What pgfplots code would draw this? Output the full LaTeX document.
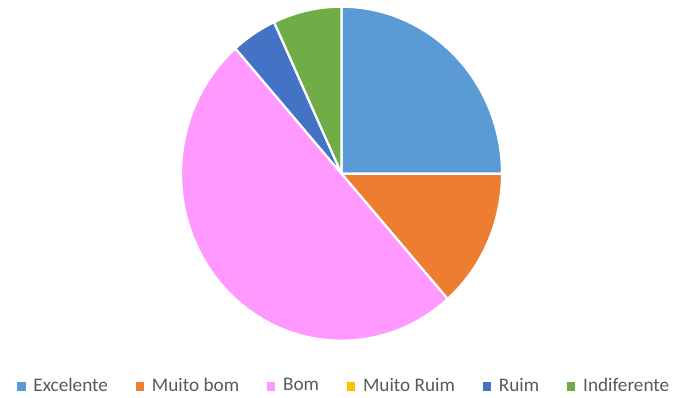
\documentclass[border=0pt]{standalone}
\usepackage{pgfplots}
\pgfplotsset{compat=1.18}
\usepackage{pgfplotstable}
\usepackage{fontspec}
\setmainfont{Carlito}
\definecolor{cExc}{HTML}{5B9BD5}
\definecolor{cMb}{HTML}{ED7D31}
\definecolor{cBom}{HTML}{FF99FF}
\definecolor{cMr}{HTML}{FFC000}
\definecolor{cRuim}{HTML}{4472C4}
\definecolor{cInd}{HTML}{70AD47}
\definecolor{txtgrey}{HTML}{595959}
\pgfplotstableread{
label value col
Excelente 25 cExc
{Muito bom} 13.5 cMb
Bom 50 cBom
{Muito Ruim} 0 cMr
Ruim 4.6 cRuim
Indiferente 6.9 cInd
}\piedata
\begin{document}
\fontsize{19.2pt}{23pt}\selectfont
\begin{tikzpicture}
\begin{axis}[
  at={(0,0)}, anchor=south west,
  scale only axis, width=675pt, height=398pt,
  xmin=0, xmax=675, ymin=0, ymax=398,
  hide axis, clip=false,
  legend columns=6,
  legend style={at={(axis cs:17,12)}, anchor=west, draw=none, fill=none,
    inner sep=0pt, outer sep=0pt,
    nodes={inner sep=0pt, text=txtgrey, font=\fontsize{19.2pt}{23pt}\selectfont},
    /tikz/every odd column/.append style={column sep=8.5pt},
    /tikz/every even column/.append style={column sep=27.6pt}},
]
\pgfplotsextra{
  \xdef\curangle{90}
  \foreach \i in {0,...,5}{
    \pgfplotstablegetelem{\i}{value}\of\piedata \let\sliceval\pgfplotsretval
    \pgfplotstablegetelem{\i}{col}\of\piedata \let\slicecol\pgfplotsretval
    \pgfmathsetmacro\endangle{\curangle - \sliceval*3.6}
    \ifdim \sliceval pt>0pt
      \fill[\slicecol, draw=white, line width=2.2pt, line join=round]
        (axis cs:341.5,224.3) -- ++(\curangle:160.5pt and 167pt)
        arc[start angle=\curangle, end angle=\endangle, x radius=160.5pt, y radius=167pt] -- cycle;
    \fi
    \xdef\curangle{\endangle}
  }
}
\addlegendimage{legend image code/.code={\fill[cExc] (0pt,-4pt) rectangle (7.5pt,3.5pt);}}
\addlegendentry{Excelente}
\addlegendimage{legend image code/.code={\fill[cMb] (0pt,-4pt) rectangle (7.5pt,3.5pt);}}
\addlegendentry{Muito bom}
\addlegendimage{legend image code/.code={\fill[cBom] (0pt,-4pt) rectangle (7.5pt,3.5pt);}}
\addlegendentry{Bom}
\addlegendimage{legend image code/.code={\fill[cMr] (0pt,-4pt) rectangle (7.5pt,3.5pt);}}
\addlegendentry{Muito Ruim}
\addlegendimage{legend image code/.code={\fill[cRuim] (0pt,-4pt) rectangle (7.5pt,3.5pt);}}
\addlegendentry{Ruim}
\addlegendimage{legend image code/.code={\fill[cInd] (0pt,-4pt) rectangle (7.5pt,3.5pt);}}
\addlegendentry{Indiferente}
\end{axis}
\path (0,0) rectangle (675pt,398pt);
\end{tikzpicture}
\end{document}
